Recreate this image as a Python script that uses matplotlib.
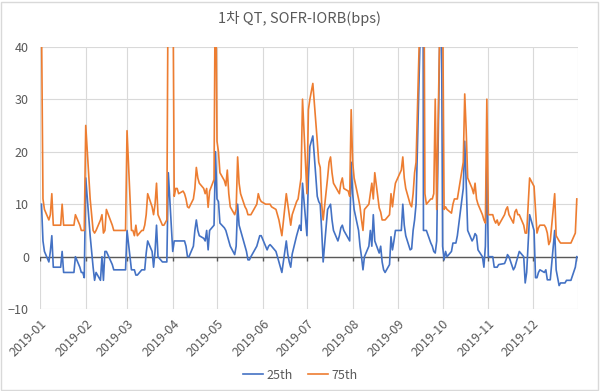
import matplotlib
matplotlib.use("Agg")
import matplotlib.pyplot as plt
from matplotlib.patches import Rectangle
import pandas as pd

plt.rcParams['font.family'] = ['Noto Sans CJK KR', 'DejaVu Sans']

# US bond-market holidays, no fixing on these days
holidays = ['2019-01-21', '2019-02-18', '2019-05-27', '2019-07-04', '2019-09-02',
            '2019-10-14', '2019-11-11', '2019-11-28', '2019-12-25']
dates = pd.bdate_range('2019-01-02', '2019-12-31')
dates = dates[~dates.isin(pd.to_datetime(holidays))]

# SOFR 25th percentile minus IORB, bps (one line per month)
p25 = [
    10, 3, 1, -1, 1, 4, -2, -2, -2, -2, 1, -3, -3, -3, -3, -3, 0, -2, -3, -3, -4,
    15, 4, 1, -2, -4.5, -3, -4.5, 0, -4.5, 1, 1, -1.5, -2.5, -2.5, -2.5, -2.5, -2.5, -2.5, -2.5,
    5, -2.5, -2.5, -2.5, -3.5, -3.5, -2.5, -2.5, -2.5, 0.7, 3, 1, -2, 1, 6, 0, -1, -1, -1, -1, 16,
    1, 3, 3, 3, 3, 3, 3, 2, 0, 0, 2, 5, 7, 5, 4, 3.5, 3, 5, 1.3, 5, 6, 20,
    11, 10.5, 6.4, 5.5, 5, 4, 3, 2, 0.4, 2, 10, 6, 5, 2, 1, -0.6, -0.6, 0, 2, 3, 4, 4,
    2, 1.3, 2, 2.3, 2, 1, 0, -1, -2, -3, 3, 0.5, -1, -2, 0.5, 4, 5, 6, 5, 14,
    4, 15, 21, 23, 11.5, 10.5, 10, 5, -1, 9, 9.5, 10, 7, 5, 3, 4, 5.5, 6, 5, 3.5, 3, 18,
    12, 9, 5, 2, 0, -2.5, 0, 2, 5, 2, 8, 3, 0.7, 2, -1, -2.5, -3, -1.5, 3.8, 1.3, 3, 5,
    5, 10, 6, 4, 1.3, 1.5, 5, 7, 10, 45, 200, 5, 5, 5, 2.6, 2, 1, 0.7, 3, 60,
    2, -0.6, 1, 0, 1, 2.6, 2.6, 2.6, 4, 13, 22, 14, 5, 3, 3.5, 4.4, 4, 1.3, 0, -2, 2, 18,
    0, 0, -2, -2, -2, -1.5, -1.3, -0.6, 0.4, 0, -2.5, -2, -1, 0, 1, 0, -5, -3, 8,
    5, -4, -4, -3, -2.5, -3, -2.5, -4.4, -4.4, -4.4, 5, -2.5, -4, -5.5, -5, -5, -4.5, -4.5, -4.5, -2, 0,
]

# SOFR 75th percentile minus IORB, bps
p75 = [
    45, 11, 9, 7, 8, 12, 6, 6, 6, 6, 10, 6, 6, 6, 6, 6, 8, 6, 5, 5, 5,
    25, 11, 8, 5, 4.5, 5, 7, 8, 4.5, 5, 9, 6, 5, 5, 5, 5, 5, 5, 5,
    24, 5, 5, 4, 6, 4, 5, 5, 6, 8, 12, 9.5, 8, 10, 14, 8, 6, 6, 6.5, 7, 60,
    60, 11.5, 13, 13, 12, 12.5, 12, 11, 9.5, 9.3, 11, 13, 17, 15, 14, 13, 12, 13, 9.4, 12.5, 14.7, 60,
    22, 20, 16, 14.5, 13.5, 16.5, 12, 9.5, 8, 9, 19, 14, 12, 9.5, 9, 8, 8, 8, 10, 12, 11, 10.5,
    10, 10, 10, 10, 9.5, 9, 8, 7, 5.5, 4, 12, 10, 8, 6, 8, 10.5, 11, 13, 15, 30,
    12, 28, 30, 33, 22, 18, 17, 10, 7, 15, 18, 19, 16, 14, 12.5, 12, 14, 15, 13, 12.5, 11.5, 28,
    18, 15, 11, 9.5, 7, 5, 9, 10, 12, 14, 11, 16, 9.3, 8.5, 7, 7, 7, 8, 12, 9.5, 12, 14,
    16.5, 19, 15, 13, 10, 9.5, 12, 16, 18, 50, 300, 80, 12, 10, 11, 11, 12, 30, 9, 60,
    50, 9, 9.5, 9, 8.3, 10, 11, 11, 11, 18, 31, 24, 15, 13, 12, 14, 11, 10, 8, 7, 6.4, 30,
    8, 8, 7, 6.4, 7, 6, 8, 9, 9.5, 8, 6.4, 8.5, 9, 8, 8, 6, 4.5, 4.5, 15,
    13.4, 9, 4.5, 5.5, 6, 6, 5.5, 4.5, 2.3, 3, 12, 4, 3.5, 3, 2.6, 2.6, 2.6, 2.6, 2.6, 4.5, 11,
]

assert len(p25) == len(dates) == len(p75)

months = pd.date_range('2019-01-01', '2020-01-01', freq='MS')
month_labels = [d.strftime('%Y-%m') for d in months[:-1]] + ['']

grey = '#595959'

fig = plt.figure(figsize=(6, 3.91), dpi=100)
ax = fig.add_axes([0.0667, 0.2092, 0.8971, 0.6714])

ax.plot(dates, p25, color='#4472C4', lw=1.2, label='25th', zorder=3)
ax.plot(dates, p75, color='#ED7D31', lw=1.2, label='75th', zorder=3)

ax.set_ylim(-10, 40)
ax.set_xlim(months[0], months[-1])
ax.set_yticks(range(-10, 41, 10))
ax.set_xticks(months)
ax.set_xticklabels(month_labels, rotation=45, ha='right', rotation_mode='anchor')
ax.grid(True, color='#d9d9d9', lw=0.8)
ax.set_axisbelow(True)
for s in ax.spines.values():
    s.set_visible(False)

# horizontal axis crosses at zero, with tick marks below it
ax.axhline(0, color=grey, lw=1.0, zorder=2)
ax.vlines(months, -0.8, 0, color=grey, lw=1.0, zorder=2)

ax.tick_params(axis='x', length=0, labelsize=9, labelcolor=grey, pad=6)
ax.tick_params(axis='y', length=0, labelsize=9, labelcolor=grey, pad=8)

fig.text(0.5, 0.953, '1차 QT, SOFR-IORB(bps)', ha='center', va='center',
         fontsize=10.5, color=grey)

fig.legend(loc='lower center', bbox_to_anchor=(0.5, -0.005), ncol=2, frameon=False,
           fontsize=9, handlelength=1.6, columnspacing=1.2, handletextpad=0.3,
           labelcolor=grey)

fig.patches.append(Rectangle((0.002, 0.003), 0.995, 0.993, transform=fig.transFigure,
                             fill=False, ec='#d9d9d9', lw=1))

fig.savefig('out.png', dpi=100)
